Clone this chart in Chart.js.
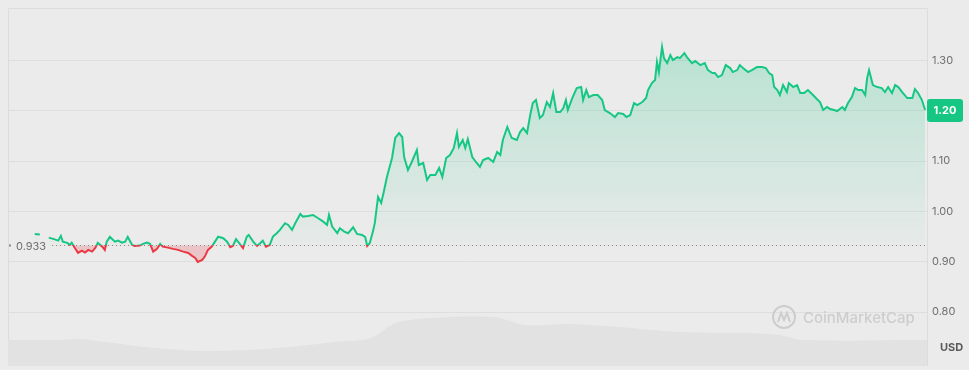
<!DOCTYPE html>
<html>
<head>
<meta charset="utf-8">
<script src="https://cdn.jsdelivr.net/npm/chart.js@4.4.0/dist/chart.umd.min.js"></script>
<style>
  html, body { margin: 0; padding: 0; background: #ebebeb; }
  canvas { display: block; }
</style>
</head>
<body>
<canvas id="grafica" width="969" height="370"></canvas>
<script>
// minutes since start of the 24h window
const times = [42,50,60,64,71,79,83,86,93,97,100,105,110,116,121,126,132,137,141,148,152,155,160,168,173,179,184,188,195,199,207,212,218,223,228,234,239,243,251,259,267,275,283,289,294,298,305,309,314,320,325,330,333,338,344,349,353,358,363,369,375,378,385,391,396,400,405,411,416,422,427,435,440,446,451,459,463,471,479,487,495,501,504,509,517,521,528,534,542,548,556,561,564,568,573,576,581,586,590,595,603,608,614,619,622,628,634,642,645,652,658,663,671,677,682,688,694,700,705,708,714,718,722,729,736,741,746,754,762,768,773,777,784,791,799,804,809,815,820,824,829,835,840,846,851,856,861,867,872,876,879,886,893,900,903,908,912,919,926,933,937,945,953,958,966,971,977,983,988,996,1002,1005,1011,1016,1019,1022,1027,1030,1035,1040,1044,1051,1055,1062,1066,1074,1079,1087,1094,1099,1106,1110,1115,1121,1127,1134,1138,1145,1149,1154,1162,1168,1176,1184,1190,1195,1200,1203,1208,1212,1217,1223,1226,1233,1239,1244,1250,1256,1264,1270,1275,1280,1286,1291,1297,1302,1310,1314,1319,1325,1330,1335,1341,1346,1349,1352,1358,1365,1372,1377,1382,1388,1393,1398,1404,1412,1420,1424,1429,1435,1440];
const prices = [0.9553,0.9543,null,0.948,0.9454,0.942,0.9514,0.940,0.9375,0.9335,
  0.938,0.9275,0.9176,0.9222,0.9182,0.9236,0.9202,0.9275,0.9375,0.9301,
  0.9236,0.940,0.9494,0.940,0.942,0.938,0.940,0.9494,0.9335,0.9315,
  0.9321,0.9355,0.938,0.9355,0.9202,0.9256,0.9355,0.9301,0.9281,0.9256,
  0.9236,0.9202,0.9176,0.9117,0.9077,0.8998,0.9037,0.9103,0.9236,0.9301,
  0.940,0.950,0.9488,0.9468,0.940,0.9289,0.9315,0.9448,0.9369,0.927,
  0.950,0.9533,0.940,0.9315,0.9369,0.942,0.9301,0.9335,0.950,0.9567,
  0.9633,0.9766,0.9732,0.9633,0.9766,0.995,0.9897,0.9911,0.993,0.9865,
  0.9797,0.9732,0.993,0.9698,0.9567,0.9666,0.9599,0.9567,0.9686,0.9553,
  0.9533,0.9488,0.9315,0.9369,0.9599,0.9772,1.0287,1.0168,1.0386,1.0684,
  1.1061,1.1458,1.1557,1.1478,1.1081,1.0823,1.0982,1.122,1.0922,1.0962,
  1.0625,1.0724,1.0724,1.0863,1.0684,1.1061,1.1121,1.126,1.1557,1.128,
  1.1418,1.126,1.1438,1.1081,1.0962,1.0883,1.1022,1.1061,1.0982,1.118,
  1.1121,1.1418,1.1676,1.1458,1.1418,1.1577,1.1656,1.1557,1.1914,1.2152,
  1.2212,1.1855,1.1914,1.2172,1.2073,1.2351,1.1974,1.1974,1.2053,1.2212,
  1.2014,1.2252,1.245,1.247,1.2212,1.241,1.2271,1.2311,1.2311,1.2212,
  1.2014,1.1954,1.1875,1.1954,1.1934,1.1875,1.1914,1.2152,1.2113,1.2172,
  1.2252,1.241,1.2549,1.2609,1.2966,1.2767,1.3264,1.3045,1.2946,1.3105,
  1.3006,1.3065,1.3045,1.3145,1.3065,1.2946,1.2986,1.2906,1.2946,1.2807,
  1.2748,1.2748,1.2668,1.2708,1.2906,1.2847,1.2767,1.2807,1.2906,1.2847,
  1.2767,1.2807,1.2867,1.2867,1.2847,1.2748,1.2708,1.247,1.241,1.2311,
  1.251,1.2371,1.2549,1.247,1.251,1.2351,1.2351,1.241,1.2311,1.2232,
  1.2172,1.2014,1.2073,1.2033,1.2014,1.1994,1.2073,1.2014,1.2152,1.2271,
  1.245,1.241,1.241,1.2311,1.2648,1.2807,1.2509,1.247,1.245,1.2371,
  1.247,1.2351,1.251,1.247,1.2371,1.2252,1.2252,1.243,1.2351,1.2212,
  1.2014];
const volTimes = [0,85,113,152,231,308,424,512,570,609,667,763,812,881,958,1055,1153,1211,1248,1443];
const volumes = [2.6,2.6,2.7,2.4,1.8,1.5,1.8,2.4,2.8,4.3,4.8,4.9,4.1,4.2,3.9,3.4,3.3,3.1,2.6,2.6]; // M USD
const yTicks = [0.8, 0.9, 1.0, 1.1, 1.2, 1.3];
const openPrice = 0.933;

const verde = '#16c784';
const rojo = '#ea3943';

function lineaColor(ctx) {
  const chart = ctx.chart;
  const area = chart.chartArea;
  if (!area) return verde;
  const yb = chart.scales.y.getPixelForValue(openPrice);
  const f = Math.min(1, Math.max(0, (yb - area.top) / (area.bottom - area.top)));
  const g = chart.ctx.createLinearGradient(0, area.top, 0, area.bottom);
  g.addColorStop(0, verde);
  g.addColorStop(f, verde);
  g.addColorStop(f, rojo);
  g.addColorStop(1, rojo);
  return g;
}

function rellenoColor(ctx) {
  const chart = ctx.chart;
  const area = chart.chartArea;
  if (!area) return 'rgba(22,199,132,0.15)';
  const yb = chart.scales.y.getPixelForValue(openPrice);
  const g = chart.ctx.createLinearGradient(0, area.top + 40, 0, yb);
  g.addColorStop(0, 'rgba(22,199,132,0.24)');
  g.addColorStop(1, 'rgba(22,199,132,0.02)');
  return g;
}

const marco = {
  id: 'marco',
  beforeDatasetsDraw(chart) {
    const c = chart.ctx, a = chart.chartArea;
    c.save();
    c.strokeStyle = '#dcdcdc';
    c.lineWidth = 1;
    c.beginPath();
    c.moveTo(a.left + 0.5, a.bottom);
    c.lineTo(a.left + 0.5, a.top + 0.5);
    c.lineTo(a.right + 0.5, a.top + 0.5);
    c.lineTo(a.right + 0.5, a.bottom);
    c.stroke();
    // watermark
    const cx = a.right - 143, cy = 317;
    c.strokeStyle = '#cdcdcd';
    c.lineWidth = 2;
    c.beginPath();
    c.arc(cx, cy, 11, 0, Math.PI * 2);
    c.stroke();
    c.beginPath();
    c.moveTo(cx - 6, cy + 5);
    c.lineTo(cx - 3, cy - 4);
    c.lineTo(cx, cy + 3);
    c.lineTo(cx + 3, cy - 4);
    c.lineTo(cx + 6, cy + 5);
    c.stroke();
    c.fillStyle = '#cdcdcd';
    c.font = '500 15px Inter, sans-serif';
    c.textBaseline = 'middle';
    c.textAlign = 'left';
    c.fillText('CoinMarketCap', cx + 19, cy + 1);
    c.restore();
  },
  afterDatasetsDraw(chart) {
    const c = chart.ctx, a = chart.chartArea;
    const yb = Math.round(chart.scales.y.getPixelForValue(openPrice)) + 0.5;
    c.save();
    c.strokeStyle = '#8a8a8a';
    c.lineWidth = 1;
    c.setLineDash([1, 3]);
    c.beginPath();
    c.moveTo(a.left + 44, yb);
    c.lineTo(a.right, yb);
    c.stroke();
    c.setLineDash([]);
    c.fillStyle = '#8a8a8a';
    c.fillRect(a.left + 1, yb - 1, 2, 2);
    c.fillStyle = '#6f6f6f';
    c.font = '11px Inter, sans-serif';
    c.textBaseline = 'middle';
    c.textAlign = 'left';
    c.fillText(openPrice.toFixed(3), a.left + 8, yb + 1);
    c.restore();
  },
  afterDraw(chart) {
    const c = chart.ctx, a = chart.chartArea;
    const ultimo = prices[prices.length - 1];
    const y = chart.scales.y.getPixelForValue(ultimo);
    c.save();
    c.fillStyle = verde;
    c.beginPath();
    c.roundRect(a.right, y - 11, 36, 23, 3);
    c.fill();
    c.fillStyle = '#ffffff';
    c.font = 'bold 11px Inter, sans-serif';
    c.textAlign = 'center';
    c.textBaseline = 'middle';
    c.fillText(ultimo.toFixed(2), a.right + 18, y + 1);
    c.fillStyle = '#5a5a5a';
    c.font = 'bold 11px Inter, sans-serif';
    c.textAlign = 'left';
    c.fillText('USD', a.right + 13, 348);
    c.restore();
  }
};

new Chart(document.getElementById('grafica'), {
  type: 'line',
  data: {
    datasets: [{
      label: 'Precio',
      data: times.map((t, i) => ({ x: t, y: prices[i] })),
      yAxisID: 'y',
      borderColor: lineaColor,
      backgroundColor: rellenoColor,
      borderWidth: 2,
      pointRadius: 0,
      tension: 0,
      spanGaps: false,
      fill: { target: { value: openPrice }, below: 'rgba(234,57,67,0.22)' },
      order: 1
    }, {
      label: 'Volumen',
      data: volTimes.map((t, i) => ({ x: t, y: volumes[i] })),
      yAxisID: 'vol',
      borderWidth: 0,
      borderColor: 'rgba(0,0,0,0)',
      backgroundColor: '#e2e2e2',
      pointRadius: 0,
      tension: 0.35,
      fill: 'origin',
      order: 2
    }]
  },
  options: {
    responsive: false,
    animation: false,
    layout: { padding: { left: 8, top: 8, bottom: 4, right: 0 } },
    plugins: { legend: { display: false }, tooltip: { enabled: false } },
    scales: {
      x: { type: 'linear', min: 0, max: 1443, display: false },
      y: {
        position: 'right',
        min: 0.693,
        max: 1.404,
        afterBuildTicks: s => { s.ticks = yTicks.map(v => ({ value: v })); },
        afterFit: s => { s.width = 42; s.paddingTop = 0; s.paddingBottom = 0; },
        grid: { color: '#dedede', drawTicks: false },
        border: { display: false },
        ticks: {
          padding: 5,
          color: '#6f6f6f',
          font: { family: 'Inter', size: 11 },
          callback: v => v.toFixed(2)
        }
      },
      vol: { display: false, min: 0, max: 35.8 }
    }
  },
  plugins: [marco]
});
</script>
</body>
</html>
